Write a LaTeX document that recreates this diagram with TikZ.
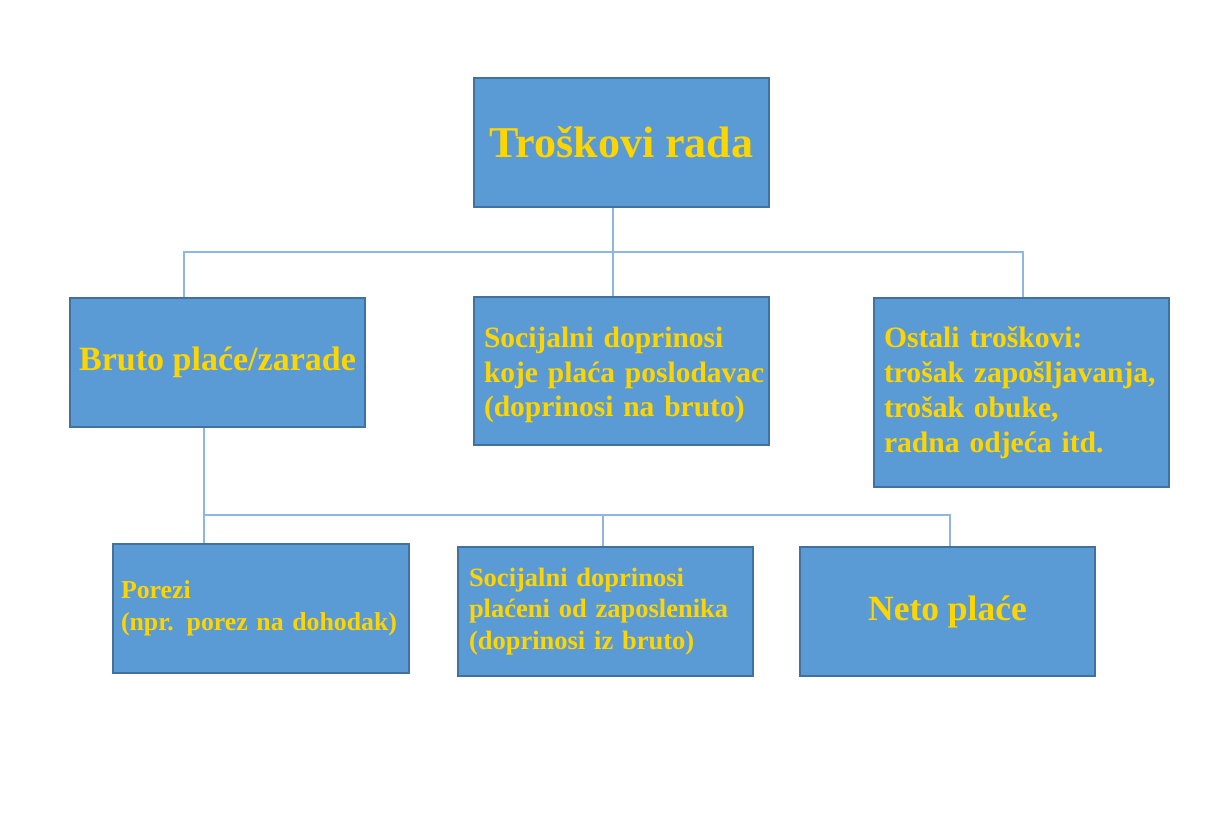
\documentclass[tikz,border=0pt]{standalone}
\usepackage{fontspec}
\setmainfont{Liberation Serif}
\definecolor{boxfill}{HTML}{5B9BD5}
\definecolor{boxedge}{HTML}{41719C}
\definecolor{conncol}{HTML}{8DB6E2}
\definecolor{txtcol}{HTML}{FFD500}
\begin{document}
\begin{tikzpicture}[x=1pt,y=-1pt,
  box/.style={draw=boxedge,line width=2.5pt,fill=boxfill,text=txtcol,font=\bfseries,
    minimum width=295pt,inner sep=0pt},
  lbox/.style={box,align=left,text width=275pt},
  conn/.style={draw=conncol,line width=1.5pt}]
\useasboundingbox (0,0) rectangle (1221,818);
\fill[white] (0,0) rectangle (1221,818);

\node[box,minimum height=129pt,font=\bfseries\fontsize{44}{50}\selectfont] (top) at (621.5,142.5) {Troškovi rada};
\node[box,minimum height=129pt,font=\bfseries\fontsize{34}{40}\selectfont] (bruto) at (217.5,362.5) {Bruto plaće/zarade};
\node[lbox,minimum height=148pt,font=\bfseries\fontsize{29.5}{34.5}\selectfont] (soc1) at (621.5,371)
  {\rule{0pt}{29pt}\mbox{Socijalni doprinosi}\\\mbox{koje plaća poslodavac}\\\mbox{(doprinosi na bruto)}};
\node[lbox,minimum height=189pt,font=\bfseries\fontsize{29.6}{35}\selectfont] (ostali) at (1021.5,392.5)
  {\mbox{Ostali troškovi:}\\\mbox{trošak zapošljavanja,}\\\mbox{trošak obuke,}\\\mbox{radna odjeća itd.}\\[4pt]};
\node[box,minimum width=296pt,minimum height=129pt,align=left,text width=280pt,font=\bfseries\fontsize{25.8}{32}\selectfont] (porezi) at (261,608.5)
  {\mbox{Porezi}\\\mbox{(npr. porez na dohodak)}\\[6pt]};
\node[lbox,minimum height=129pt,text width=273pt,font=\bfseries\fontsize{26.5}{31.5}\selectfont] (soc2) at (605.5,611.5)
  {\mbox{Socijalni doprinosi}\\\mbox{plaćeni od zaposlenika}\\\mbox{(doprinosi iz bruto)}};
\node[box,minimum height=129pt,font=\bfseries\fontsize{35.5}{40}\selectfont] (neto) at (947.5,611.5) {Neto plaće};

\coordinate (ja) at (613,252);
\coordinate (jl) at (184,252);
\coordinate (jr) at (1023,252);
\coordinate (jb1) at (204,515);
\coordinate (jb2) at (603,515);
\coordinate (jb3) at (950,515);

\draw[conn] (top.south -| ja) -- (soc1.north -| ja);
\draw[conn] (bruto.north -| jl) -- (jl) -- (jr) -- (ostali.north -| jr);
\draw[conn] (bruto.south -| jb1) -- (porezi.north -| jb1);
\draw[conn] (jb1) -- (jb3) -- (neto.north -| jb3);
\draw[conn] (jb2) -- (soc2.north -| jb2);
\end{tikzpicture}
\end{document}
